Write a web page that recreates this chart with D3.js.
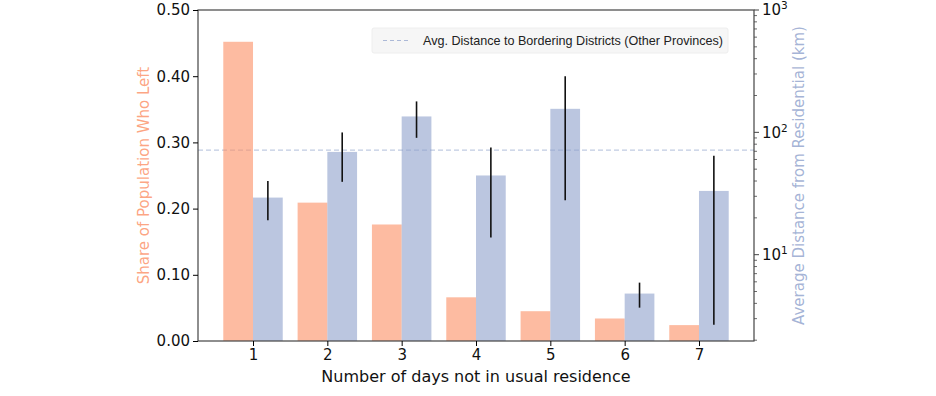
<!DOCTYPE html>
<html>
<head>
<meta charset="utf-8">
<script src="https://cdn.jsdelivr.net/npm/d3@7"></script>
<style>
  body { margin: 0; background: #fff; }
  svg text { font-family: "DejaVu Sans", sans-serif; }
</style>
</head>
<body>
<div id="chart"></div>
<script>
// days away from usual residence
const days = [1, 2, 3, 4, 5, 6, 7];
// share of population who left (left axis)
const shareLeft = [0.452, 0.209, 0.176, 0.066, 0.045, 0.034, 0.024];
// average distance from residential in km (right axis, log)
const avgDistance = [29.3, 69.2, 134.9, 44.4, 155.7, 4.81, 33.2];
const distLow = [19.1, 39.4, 90.2, 13.8, 27.8, 3.69, 2.68];
const distHigh = [40.1, 99.8, 179, 75.2, 288, 5.91, 64.3];
// reference line: bordering districts in other provinces
const borderDistance = 71.5;
const leftTicks = [0, 0.1, 0.2, 0.3, 0.4, 0.5];
const rightTicks = [10, 100, 1000];

const width = 936, height = 396;
const margin = { top: 10, right: 182, bottom: 55, left: 198 };
const innerW = width - margin.left - margin.right;
const innerH = height - margin.top - margin.bottom;

const orange = '#fc8d62';
const blue = '#8da0cb';

const svg = d3.select('#chart')
  .append('svg')
  .attr('width', width)
  .attr('height', height);

const g = svg.append('g').attr('transform', `translate(${margin.left},${margin.top})`);

const x = d3.scaleLinear().domain([0.26, 7.74]).range([0, innerW]);
const yLeft = d3.scaleLinear().domain([0, 0.5]).range([innerH, 0]);
const yRight = d3.scaleLog().domain([1.97, 1000]).range([innerH, 0]);
const barW = x(1.4) - x(1);

// reference line
g.append('line')
  .attr('x1', 0).attr('x2', innerW)
  .attr('y1', yRight(borderDistance)).attr('y2', yRight(borderDistance))
  .attr('stroke', blue).attr('stroke-opacity', 0.55)
  .attr('stroke-width', 1.2)
  .attr('stroke-dasharray', '5,3');

// orange bars - share who left
g.append('g')
  .selectAll('rect')
  .data(days)
  .join('rect')
  .attr('x', (d) => x(d) - barW)
  .attr('width', barW)
  .attr('y', (d, i) => yLeft(shareLeft[i]))
  .attr('height', (d, i) => innerH - yLeft(shareLeft[i]))
  .attr('fill', orange)
  .attr('fill-opacity', 0.6);

// blue bars - distance
g.append('g')
  .selectAll('rect')
  .data(days)
  .join('rect')
  .attr('x', (d) => x(d))
  .attr('width', barW)
  .attr('y', (d, i) => yRight(avgDistance[i]))
  .attr('height', (d, i) => innerH - yRight(avgDistance[i]))
  .attr('fill', blue)
  .attr('fill-opacity', 0.6);

// error bars
g.append('g')
  .selectAll('line')
  .data(days)
  .join('line')
  .attr('x1', (d) => x(d) + barW / 2)
  .attr('x2', (d) => x(d) + barW / 2)
  .attr('y1', (d, i) => yRight(distLow[i]))
  .attr('y2', (d, i) => yRight(distHigh[i]))
  .attr('stroke', '#111')
  .attr('stroke-width', 1.6);

// frame
g.append('rect')
  .attr('width', innerW).attr('height', innerH)
  .attr('fill', 'none').attr('stroke', '#444').attr('stroke-width', 1.2);

// x axis
const xAxis = g.append('g')
  .attr('transform', `translate(0,${innerH})`)
  .call(d3.axisBottom(x).tickValues(days).tickFormat(d3.format('d')).tickSize(5).tickSizeOuter(0));
xAxis.select('.domain').remove();
xAxis.selectAll('text').attr('font-size', 15).attr('fill', '#111');

// left axis
const lAxis = g.append('g')
  .call(d3.axisLeft(yLeft).tickValues(leftTicks).tickFormat(d3.format('.2f')).tickSize(5).tickSizeOuter(0));
lAxis.select('.domain').remove();
lAxis.selectAll('text').attr('font-size', 15).attr('fill', '#111');

// right axis (log) with minor ticks
const minor = [];
for (let p = 0; p < 3; p++) {
  for (let m = 2; m <= 9; m++) {
    const v = m * Math.pow(10, p);
    if (v >= 1.97 && v < 1000) minor.push(v);
  }
}
const rAxis = g.append('g').attr('transform', `translate(${innerW},0)`);
rAxis.selectAll('.minor')
  .data(minor)
  .join('line')
  .attr('class', 'minor')
  .attr('x1', 0).attr('x2', 3)
  .attr('y1', (d) => yRight(d)).attr('y2', (d) => yRight(d))
  .attr('stroke', '#444').attr('stroke-width', 0.8);
const major = rAxis.selectAll('.major')
  .data(rightTicks)
  .join('g')
  .attr('class', 'major')
  .attr('transform', (d) => `translate(0,${yRight(d)})`);
major.append('line').attr('x2', 5).attr('stroke', '#444').attr('stroke-width', 1);
const mtext = major.append('text')
  .attr('x', 8).attr('dy', '0.35em')
  .attr('font-size', 15).attr('fill', '#111');
mtext.append('tspan').text('10');
mtext.append('tspan')
  .attr('font-size', 10.5).attr('dy', '-0.55em')
  .text((d) => Math.round(Math.log10(d)));

// axis titles
svg.append('text')
  .attr('transform', `translate(149,${margin.top + innerH / 2}) rotate(-90)`)
  .attr('text-anchor', 'middle')
  .attr('font-size', 15)
  .attr('fill', orange).attr('fill-opacity', 0.8)
  .text('Share of Population Who Left');

svg.append('text')
  .attr('transform', `translate(804,${margin.top + innerH / 2}) rotate(-90)`)
  .attr('text-anchor', 'middle')
  .attr('font-size', 15)
  .attr('fill', blue).attr('fill-opacity', 0.8)
  .text('Average Distance from Residential (km)');

svg.append('text')
  .attr('x', margin.left + innerW / 2)
  .attr('y', 382)
  .attr('text-anchor', 'middle')
  .attr('font-size', 16)
  .attr('fill', '#111')
  .text('Number of days not in usual residence');

// legend
const legend = g.append('g').attr('transform', `translate(174,18)`);
legend.append('rect')
  .attr('width', 356).attr('height', 25)
  .attr('fill', '#f6f6f6').attr('stroke', '#eeeeee').attr('rx', 2);
legend.append('line')
  .attr('x1', 11).attr('x2', 37).attr('y1', 12.5).attr('y2', 12.5)
  .attr('stroke', blue).attr('stroke-opacity', 0.7)
  .attr('stroke-width', 1).attr('stroke-dasharray', '4,3');
legend.append('text')
  .attr('x', 51).attr('y', 12.5).attr('dy', '0.35em')
  .attr('font-size', 12.6)
  .style('font-family', '"Liberation Sans", Arial, sans-serif')
  .attr('fill', '#222')
  .text('Avg. Distance to Bordering Districts (Other Provinces)');
</script>
</body>
</html>
